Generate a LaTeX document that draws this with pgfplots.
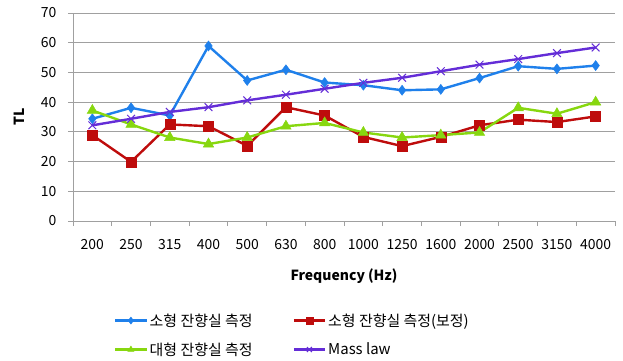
\documentclass[border=0pt]{standalone}
\usepackage{pgfplots}
\pgfplotsset{compat=1.18}
\usepackage{fontspec}
\setmainfont{Noto Sans CJK KR}
\definecolor{cblue}{RGB}{31,128,235}
\definecolor{cred}{RGB}{190,12,12}
\definecolor{cgreen}{RGB}{135,215,15}
\definecolor{cpurple}{RGB}{100,45,215}
\definecolor{cgrid}{RGB}{160,160,160}
\begin{document}
\begin{tikzpicture}
\path[use as bounding box] (-73bp,-140bp) rectangle (550bp,221bp);
\begin{axis}[
  scale only axis,
  width=542bp, height=208bp,
  xmin=-0.5, xmax=13.5,
  ymin=0, ymax=70,
  ytick={0,10,...,70},
  xtick={0,...,13},
  xticklabels={200,250,315,400,500,630,800,1000,1250,1600,2000,2500,3150,4000},
  minor xtick={-0.5,0.5,...,13.5},
  major x tick style={draw=none},
  minor x tick style={draw=cgrid, line width=0.8bp},
  y tick style={draw=cgrid, line width=0.8bp},
  tick align=outside,
  major tick length=5bp, minor tick length=5bp,
  axis x line*=bottom, axis y line*=left,
  axis line style={draw=cgrid, line width=0.8bp},
  ymajorgrids,
  major grid style={draw=cgrid, line width=0.8bp},
  /pgf/number format/assume math mode=true,
  tick label style={font=\fontsize{14}{16}\selectfont, text=black},
  yticklabel style={xshift=-8bp},
  xticklabel style={yshift=-10bp},
  xlabel={\textbf{Frequency (Hz)}},
  ylabel={\textbf{TL}},
  label style={font=\fontsize{14}{16}\selectfont},
  xlabel style={yshift=-12bp},
  ylabel style={yshift=10bp},
  legend columns=2,
  legend style={draw=none, fill=none, at={(0.07,-0.425)}, anchor=north west,
    font=\fontsize{15}{17}\selectfont,
    /tikz/every even column/.append style={column sep=38bp},
    row sep=11bp},
  legend cell align=left,
  legend image code/.code={\draw[mark repeat=2,mark phase=2,#1,mark size=3.5bp] plot coordinates {(0cm,0cm) (0.55cm,0cm) (1.1cm,0cm)};},
  every axis plot/.append style={line width=2.4bp},
]
\addplot[color=cblue, mark=diamond*, mark size=5bp, mark options={fill=cblue, line width=0.5bp}]
coordinates {(0,34.4)(1,38.1)(2,35.5)(3,58.9)(4,47.3)(5,50.9)(6,46.6)(7,45.7)(8,44.0)(9,44.3)(10,48.1)(11,52.1)(12,51.2)(13,52.3)};
\addlegendentry{소형 잔향실 측정}
\addplot[color=cred, mark=square*, mark size=5bp, mark options={fill=cred, line width=0.5bp}]
coordinates {(0,28.9)(1,19.9)(2,32.5)(3,31.9)(4,25.3)(5,38.3)(6,35.5)(7,28.3)(8,25.2)(9,28.3)(10,32.2)(11,34.1)(12,33.3)(13,35.2)};
\addlegendentry{소형 잔향실 측정(보정)}
\addplot[color=cgreen, mark=triangle*, mark size=6bp, mark options={fill=cgreen, line width=0.5bp}]
coordinates {(0,37.2)(1,32.5)(2,28.1)(3,25.9)(4,28.1)(5,31.9)(6,33.0)(7,29.8)(8,28.1)(9,28.9)(10,29.8)(11,38.1)(12,36.1)(13,40.0)};
\addlegendentry{대형 잔향실 측정}
\addplot[color=cpurple, mark=x, mark size=5.5bp, mark options={line width=1bp}]
coordinates {(0,32.2)(1,34.4)(2,36.7)(3,38.3)(4,40.6)(5,42.5)(6,44.5)(7,46.5)(8,48.2)(9,50.4)(10,52.6)(11,54.5)(12,56.5)(13,58.4)};
\addlegendentry{Mass law}
\end{axis}
\end{tikzpicture}
\end{document}
